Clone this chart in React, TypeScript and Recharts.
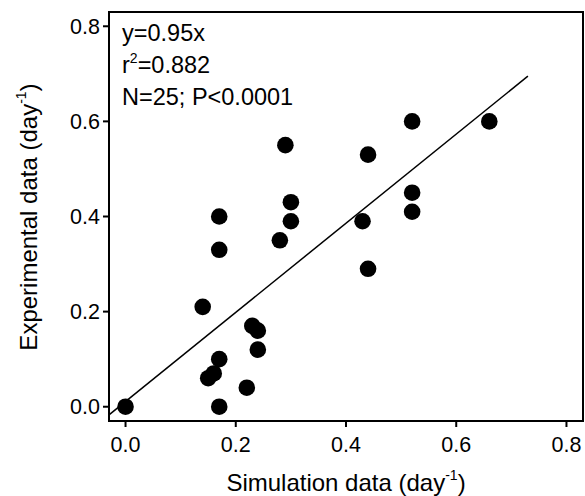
import React from "react";
import {
	ScatterChart,
	Scatter,
	XAxis,
	YAxis,
	ReferenceLine,
	ReferenceArea,
	Customized
} from "recharts";

const simX = [0, 0.17, 0.17, 0.14, 0.23, 0.24, 0.24, 0.17, 0.16, 0.15, 0.22, 0.17, 0.3, 0.3, 0.28, 0.29, 0.44, 0.43, 0.44, 0.52, 0.52, 0.52, 0.66];
const expY = [0, 0.4, 0.33, 0.21, 0.17, 0.16, 0.12, 0.1, 0.07, 0.06, 0.04, 0, 0.43, 0.39, 0.35, 0.55, 0.53, 0.39, 0.29, 0.6, 0.45, 0.41, 0.6];
const ticks = [0, 0.2, 0.4, 0.6, 0.8];
const fitX = [-0.03, 0.73];
const fitY = [-0.017, 0.695];
const statLines = ["y=0.95x", "r2=0.882", "N=25; P<0.0001"];

const points = simX.map((x, i) => ({ x, y: expY[i] }));

const FONT = "'Liberation Sans', Arial, Helvetica, sans-serif";

const Dot = (props: any) => <circle cx={props.cx} cy={props.cy} r={8.3} fill="#000" />;

const Annotations = () => (
	<g fontFamily={FONT} fontSize={23.5} fill="#000">
		<text x={122} y={41}>{statLines[0]}</text>
		<text x={122} y={73}>
			r<tspan fontSize={14} dy={-10}>2</tspan>
			<tspan dy={10}>{statLines[1].slice(2)}</tspan>
		</text>
		<text x={122} y={105}>{statLines[2]}</text>
		<text x={346} y={491} textAnchor="middle" fontSize={24}>
			Simulation data (day<tspan fontSize={14} dy={-11}>-1</tspan>
			<tspan dy={11}>)</tspan>
		</text>
		<text x={37} y={217} textAnchor="middle" fontSize={24} transform="rotate(-90, 37, 217)">
			Experimental data (day<tspan fontSize={14} dy={-11}>-1</tspan>
			<tspan dy={11}>)</tspan>
		</text>
	</g>
);

export default function App() {
	return (
		<div style={{ position: "absolute", left: 0, top: 0, background: "#fff" }}>
			<ScatterChart width={585} height={496} margin={{ top: 12, right: 2, left: 0, bottom: 0 }}>
				<XAxis
					type="number"
					dataKey="x"
					domain={[-0.03, 0.83]}
					ticks={ticks}
					tickFormatter={(v: number) => v.toFixed(1)}
					height={75}
					stroke="#000"
					strokeWidth={2}
					tickSize={6}
					tickMargin={10}
					tick={{ fill: "#000", fontSize: 21.5, fontFamily: FONT }}
					allowDataOverflow
				/>
				<YAxis
					type="number"
					dataKey="y"
					domain={[-0.03, 0.83]}
					ticks={ticks}
					tickFormatter={(v: number) => v.toFixed(1)}
					width={109}
					stroke="#000"
					strokeWidth={2}
					tickSize={6}
					tickMargin={3}
					tick={{ fill: "#000", fontSize: 21.5, fontFamily: FONT }}
					allowDataOverflow
				/>
				<ReferenceArea
					x1={-0.03}
					x2={0.83}
					y1={-0.03}
					y2={0.83}
					fill="none"
					stroke="#000"
					strokeWidth={2}
					ifOverflow="visible"
				/>
				<ReferenceLine
					segment={[
						{ x: fitX[0], y: fitY[0] },
						{ x: fitX[1], y: fitY[1] }
					]}
					stroke="#000"
					strokeWidth={1.5}
					ifOverflow="visible"
				/>
				<Scatter data={points} shape={Dot} isAnimationActive={false} />
				<Customized component={Annotations} />
			</ScatterChart>
		</div>
	);
}
